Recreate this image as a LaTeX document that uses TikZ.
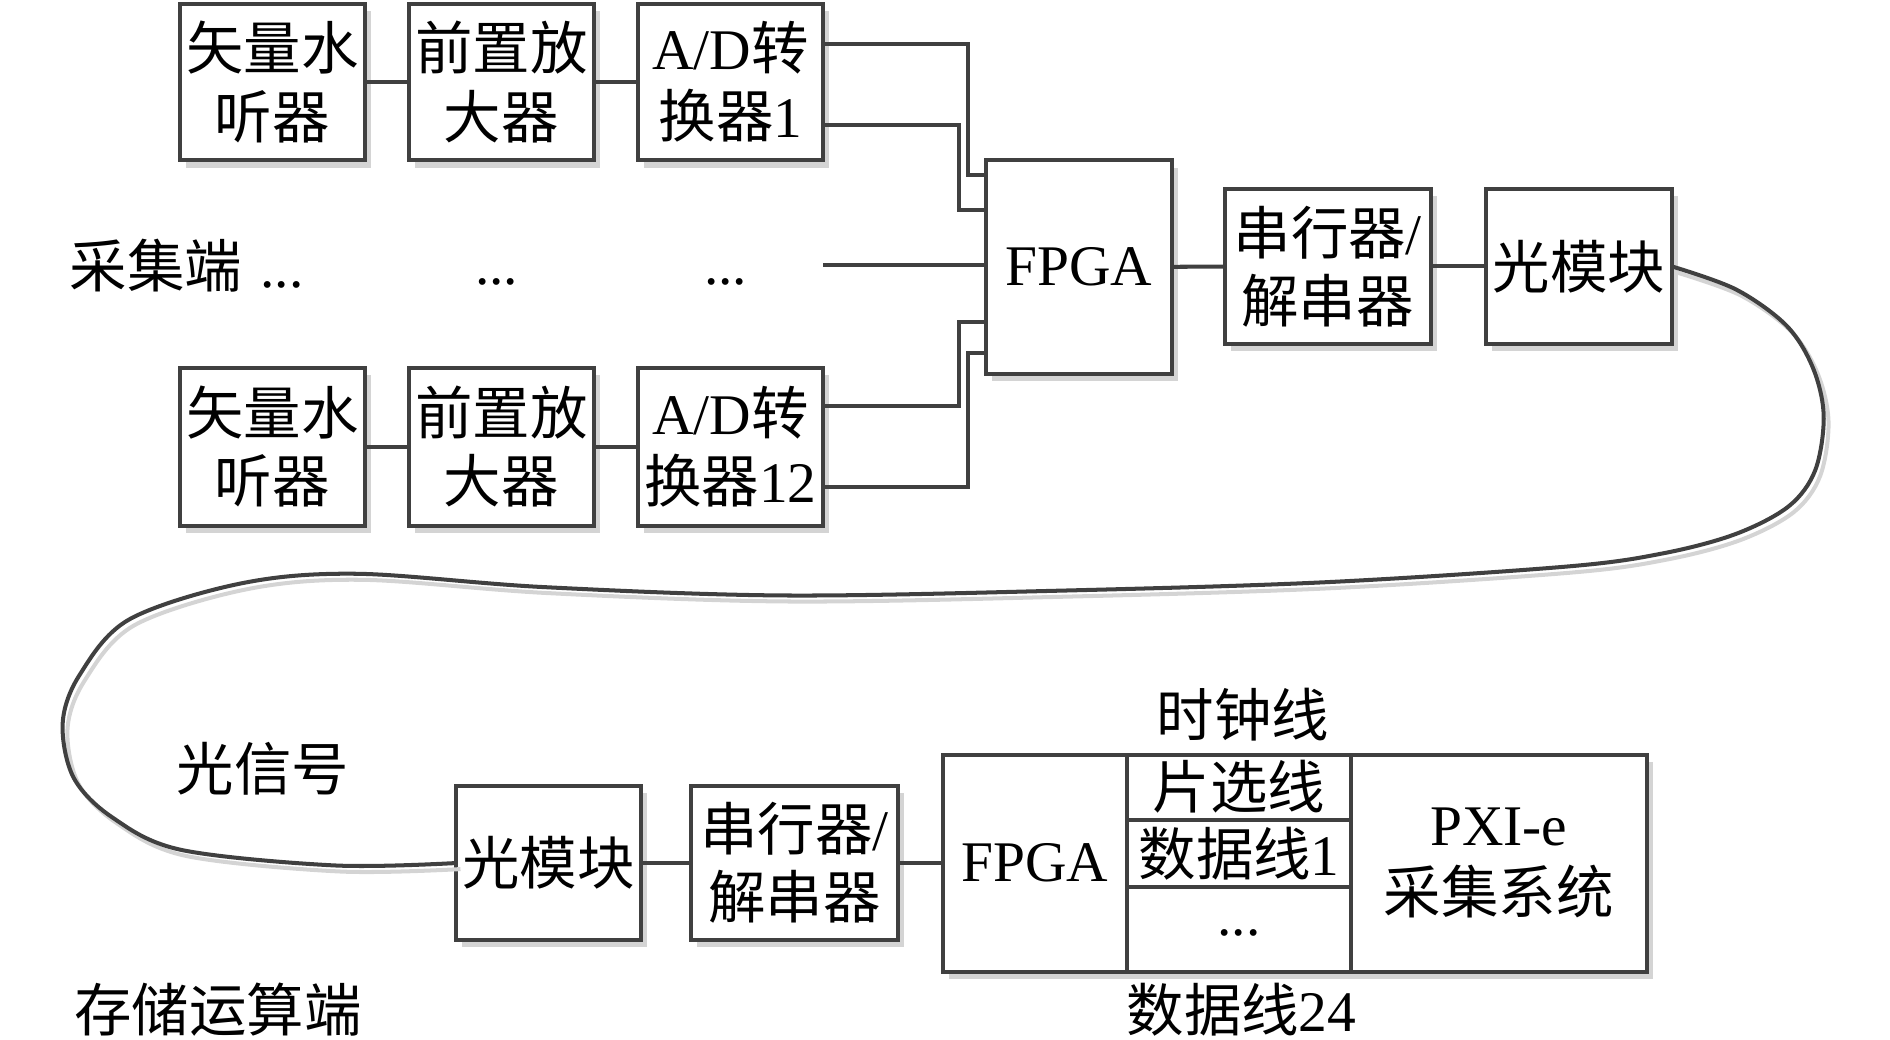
\documentclass[tikz,border=0pt]{standalone}
\usepackage{fontspec}
\setmainfont{Liberation Serif}
\newfontfamily\zhf{Noto Sans CJK SC}
\usetikzlibrary{calc,shadows}
\definecolor{lc}{HTML}{404040}
\definecolor{sh}{HTML}{D4D4D4}
\tikzset{
  every node/.style={font=\fontsize{14.3pt}{17pt}\selectfont, inner sep=0pt, outer sep=0pt},
  blk/.style={draw=lc, line width=1pt, fill=white, align=center,
    drop shadow={shadow xshift=1.5pt, shadow yshift=-1.8pt, fill=sh, opacity=1}},
  cell/.style={draw=lc, line width=1pt, align=center},
  wire/.style={draw=lc, line width=1pt},
  fiber/.style={draw=lc, line width=1pt},
  fibersh/.style={draw=sh, line width=1pt},
  lbl/.style={align=center}
}
\begin{document}
\begin{tikzpicture}[x=0.3pt,y=-0.3pt]
\useasboundingbox (0,0) rectangle (1568,862);

% ---------- acquisition side ----------
\node[blk, minimum width=46.2pt, minimum height=39pt] (a1) at (226,68) {{\zhf 矢量水}\\{\zhf 听器}};
\node[blk, minimum width=46.2pt, minimum height=39pt] (b1) at (416,68) {{\zhf 前置放}\\{\zhf 大器}};
\node[blk, minimum width=46.2pt, minimum height=39pt] (c1) at (606,68) {A/D{\zhf 转}\\{\zhf 换器}1};

\node[blk, minimum width=46.2pt, minimum height=39.3pt] (a2) at (226,370.5) {{\zhf 矢量水}\\{\zhf 听器}};
\node[blk, minimum width=46.2pt, minimum height=39.3pt] (b2) at (416,370.5) {{\zhf 前置放}\\{\zhf 大器}};
\node[blk, minimum width=46.2pt, minimum height=39.3pt] (c2) at (606,370.5) {A/D{\zhf 转}\\{\zhf 换器}12};

\node[blk, minimum width=46.2pt, minimum height=53.1pt] (fpga1) at (895,221.5) {FPGA};
\node[blk, minimum width=51.3pt, minimum height=38.4pt] (ser1) at (1101.5,221) {{\zhf 串行器}/\\{\zhf 解串器}};
\node[blk, minimum width=46.2pt, minimum height=38.4pt] (opt1) at (1310,221) {\zhf 光模块};

\node[lbl, anchor=west] (acq) at (58,220) {{\zhf 采集端}\hspace{4.5pt}...};
\node[lbl, anchor=base] (dotsb) at (412,236) {...};
\node[lbl, anchor=base] (dotsc) at (602,236) {...};
\coordinate (midin) at (683,220);

% chain connectors
\draw[wire] (a1) -- (b1);
\draw[wire] (b1) -- (c1);
\draw[wire] (a2) -- (b2);
\draw[wire] (b2) -- (c2);
\draw[wire] (fpga1) -- (ser1);
\draw[wire] (ser1) -- (opt1);

% A/D -> FPGA
\coordinate (vA) at (803,0);
\coordinate (vB) at (796,0);
\coordinate (c1o1) at ($(c1.north east)!0.26!(c1.south east)$);
\coordinate (c1o2) at ($(c1.north east)!0.777!(c1.south east)$);
\coordinate (c2o1) at ($(c2.north east)!0.244!(c2.south east)$);
\coordinate (c2o2) at ($(c2.north east)!0.756!(c2.south east)$);
\coordinate (f1) at ($(fpga1.north west)!0.068!(fpga1.south west)$);
\coordinate (f2) at ($(fpga1.north west)!0.232!(fpga1.south west)$);
\coordinate (f4) at ($(fpga1.north west)!0.757!(fpga1.south west)$);
\coordinate (f5) at ($(fpga1.north west)!0.904!(fpga1.south west)$);
\draw[wire] (c1o1) -- (c1o1 -| vA) -- (vA |- f1) -- (f1);
\draw[wire] (c1o2) -- (c1o2 -| vB) -- (vB |- f2) -- (f2);
\draw[wire] (midin) -- (midin -| fpga1.west);
\draw[wire] (c2o1) -- (c2o1 -| vB) -- (vB |- f4) -- (f4);
\draw[wire] (c2o2) -- (c2o2 -| vA) -- (vA |- f5) -- (f5);

% ---------- storage / computing side ----------
\node[blk, minimum width=46.2pt, minimum height=38.4pt] (opt2) at (455,716) {\zhf 光模块};
\node[blk, minimum width=51.6pt, minimum height=38.4pt] (ser2) at (659,716) {{\zhf 串行器}/\\{\zhf 解串器}};
\node[blk, minimum width=175.2pt, minimum height=54pt] (sys) at (1074,716) {};
\node[cell, minimum width=45.9pt, minimum height=54pt] (fpga2) at (858.5,716) {FPGA};
\node[cell, minimum width=55.8pt, minimum height=16.2pt] (cs) at (1028,653) {\zhf 片选线};
\node[cell, minimum width=55.8pt, minimum height=16.8pt] (d1) at (1028,708) {{\zhf 数据线}1};
\node[cell, minimum width=55.8pt, minimum height=21pt] (dn) at (1028,771) {};
\node[lbl, anchor=base] (dndots) at (1028,776) {...};
\node[cell, minimum width=73.5pt, minimum height=54pt] (pxi) at (1243.5,716) {PXI-e\\{\zhf 采集系统}};

\node[lbl] (clk) at (1031,593) {\zhf 时钟线};
\node[lbl] (d24) at (1030,838) {{\zhf 数据线}24};
\node[lbl] (sig) at (218,638) {\zhf 光信号};
\node[lbl] (store) at (181,838) {\zhf 存储运算端};

\draw[wire] (opt2) -- (ser2);
\draw[wire] (ser2) -- (fpga2);

% ---------- optical fiber ----------
\begin{scope}[xshift=1.2pt, yshift=-1.5pt]
\draw[fibersh] plot[smooth, tension=0.55] coordinates {
  (1387,221) (1440,240) (1482,270) (1504,305) (1513,345) (1506,390)
  (1484,420) (1440,443) (1380,459) (1300,470) (1100,483) (880,490)
  (650,494) (450,487) (296,476) (200,484) (107,514) (66,560) (52,600)
  (61,645) (93,678) (150,705) (278,718) (378,716)};
\end{scope}
\draw[fiber] plot[smooth, tension=0.55] coordinates {
  (opt1.east) (1440,240) (1482,270) (1504,305) (1513,345) (1506,390)
  (1484,420) (1440,443) (1380,459) (1300,470) (1100,483) (880,490)
  (650,494) (450,487) (296,476) (200,484) (107,514) (66,560) (52,600)
  (61,645) (93,678) (150,705) (278,718) (opt2.west)};
\end{tikzpicture}
\end{document}
